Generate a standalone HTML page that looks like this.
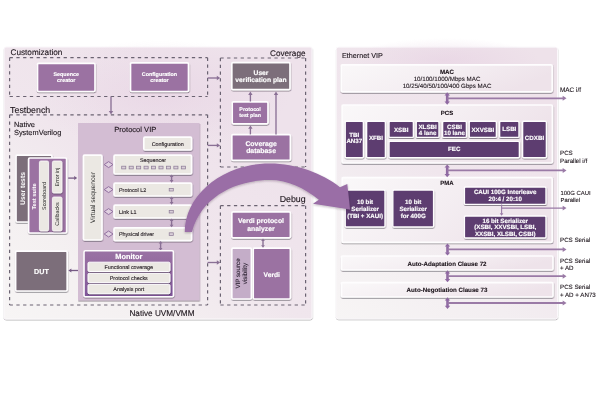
<!DOCTYPE html><html><head><meta charset="utf-8"><style>html,body{margin:0;padding:0;background:#fff;overflow:hidden}svg{display:block;will-change:transform;text-rendering:geometricPrecision;font-family:"Liberation Sans",sans-serif}</style></head><body>
<svg width="600" height="400" viewBox="0 0 600 400">
<defs><filter id="sh" x="-20%" y="-20%" width="140%" height="150%"><feDropShadow dx="0.3" dy="1" stdDeviation="0.7" flood-color="#2a1a30" flood-opacity="0.5"/></filter><filter id="psh" x="-5%" y="-5%" width="110%" height="110%"><feDropShadow dx="0.2" dy="0.9" stdDeviation="0.55" flood-color="#201020" flood-opacity="0.32"/></filter><linearGradient id="lp" x1="0" y1="1" x2="0.7" y2="0.2"><stop offset="0" stop-color="#f7f5f5"/><stop offset="0.3" stop-color="#f4f0f1"/><stop offset="0.6" stop-color="#f0e6ed"/><stop offset="1" stop-color="#eee2eb"/></linearGradient><linearGradient id="rp" x1="0" y1="1" x2="0.6" y2="0"><stop offset="0" stop-color="#f7f5f5"/><stop offset="0.35" stop-color="#f3eef1"/><stop offset="0.6" stop-color="#f0e6ed"/><stop offset="1" stop-color="#eee2ea"/></linearGradient><linearGradient id="wb" x1="0" y1="0" x2="1" y2="0.3"><stop offset="0" stop-color="#faf8f9"/><stop offset="0.55" stop-color="#f4eef2"/><stop offset="1" stop-color="#eee3ea"/></linearGradient><linearGradient id="mon" x1="0" y1="0" x2="0" y2="1"><stop offset="0" stop-color="#9a72a4"/><stop offset="0.3" stop-color="#946aa0"/><stop offset="1" stop-color="#80559a"/></linearGradient><filter id="ash" x="-10%" y="-10%" width="120%" height="130%"><feDropShadow dx="0" dy="1" stdDeviation="1" flood-color="#301830" flood-opacity="0.3"/></filter><radialGradient id="rg"><stop offset="0" stop-color="#e6d0e2" stop-opacity="0.55"/><stop offset="1" stop-color="#e6d0e2" stop-opacity="0"/></radialGradient></defs>
<rect x="4" y="47" width="308" height="272" rx="2" fill="url(#lp)" stroke="#fbf8fb" stroke-width="1" filter="url(#psh)"/>
<ellipse cx="160" cy="95" rx="130" ry="55" fill="url(#rg)"/>
<text x="10.5" y="55.2" font-size="8.2" fill="#1a1219" text-anchor="start"  stroke="#1a1219" stroke-width="0.1">Customization</text>
<text x="305.5" y="55.6" font-size="8.2" fill="#1a1219" text-anchor="end"  stroke="#1a1219" stroke-width="0.1">Coverage</text>
<text x="10.1" y="112.6" font-size="8.8" fill="#1a1219" text-anchor="start"  stroke="#1a1219" stroke-width="0.1">Testbench</text>
<text x="14" y="127.2" font-size="7.4" fill="#1a1219" text-anchor="start"  stroke="#1a1219" stroke-width="0.1">Native</text>
<text x="14" y="135.2" font-size="7.4" fill="#1a1219" text-anchor="start"  stroke="#1a1219" stroke-width="0.1">SystemVerilog</text>
<text x="305.6" y="202" font-size="8.8" fill="#1a1219" text-anchor="end"  stroke="#1a1219" stroke-width="0.1">Debug</text>
<text x="194.5" y="316" font-size="8.2" fill="#1a1219" text-anchor="end"  stroke="#1a1219" stroke-width="0.1">Native UVM/VMM</text>
<path d="M9.6,57.7 H207.6 M9.6,96.5 H207.6 M9.6,57.7 V96.5 M207.6,57.7 V96.5" fill="none" stroke="#6b6372" stroke-width="1.2" stroke-dasharray="3.3 3.45"/>
<path d="M220.4,58 H305.6 M220.4,167 H305.6 M220.4,58 V167 M305.6,58 V167" fill="none" stroke="#6b6372" stroke-width="1.2" stroke-dasharray="3.3 3.45"/>
<path d="M9.6,114.8 H207.6 M9.6,305 H207.6 M9.6,114.8 V305 M207.6,114.8 V305" fill="none" stroke="#6b6372" stroke-width="1.2" stroke-dasharray="3.3 3.45"/>
<path d="M220.4,205.7 H305.6 M220.4,305 H305.6 M220.4,205.7 V305 M305.6,205.7 V305" fill="none" stroke="#6b6372" stroke-width="1.2" stroke-dasharray="3.3 3.45"/>
<rect x="37.5" y="63.3" width="57.5" height="28.2" rx="1.2" fill="#9b72a2" stroke="#fefdfe" stroke-width="1.7" filter="url(#sh)" />
<text x="66.2" y="76.3" font-size="5.4" font-weight="bold" fill="#fff" text-anchor="middle"  stroke="#fff" stroke-width="0.15">Sequence</text>
<text x="66.2" y="82.3" font-size="5.4" font-weight="bold" fill="#fff" text-anchor="middle"  stroke="#fff" stroke-width="0.15">creator</text>
<rect x="130.5" y="62.8" width="58.0" height="28.7" rx="1.2" fill="#9b72a2" stroke="#fefdfe" stroke-width="1.7" filter="url(#sh)" />
<text x="159.5" y="76.3" font-size="5.4" font-weight="bold" fill="#fff" text-anchor="middle"  stroke="#fff" stroke-width="0.15">Configuration</text>
<text x="159.5" y="82.3" font-size="5.4" font-weight="bold" fill="#fff" text-anchor="middle"  stroke="#fff" stroke-width="0.15">creator</text>
<rect x="231.8" y="62.6" width="58.2" height="27.0" rx="1.2" fill="#7c6e7a" stroke="#fefdfe" stroke-width="1.7" filter="url(#sh)" />
<text x="261" y="74.8" font-size="6.7" font-weight="bold" fill="#fff" text-anchor="middle"  stroke="#fff" stroke-width="0.15">User</text>
<text x="261" y="81.6" font-size="6.7" font-weight="bold" fill="#fff" text-anchor="middle"  stroke="#fff" stroke-width="0.15">verification plan</text>
<rect x="232.2" y="101.8" width="35.8" height="22.0" rx="1.2" fill="#9b72a2" stroke="#fefdfe" stroke-width="1.7" filter="url(#sh)" />
<text x="250.1" y="111.1" font-size="5.3" font-weight="bold" fill="#fff" text-anchor="middle"  stroke="#fff" stroke-width="0.15">Protocol</text>
<text x="250.1" y="116.9" font-size="5.3" font-weight="bold" fill="#fff" text-anchor="middle"  stroke="#fff" stroke-width="0.15">test plan</text>
<rect x="231.8" y="134.6" width="58.6" height="25.8" rx="1.2" fill="#9b72a2" stroke="#fefdfe" stroke-width="1.7" filter="url(#sh)" />
<text x="261.1" y="146.0" font-size="6.9" font-weight="bold" fill="#fff" text-anchor="middle"  stroke="#fff" stroke-width="0.15">Coverage</text>
<text x="261.1" y="153.1" font-size="6.9" font-weight="bold" fill="#fff" text-anchor="middle"  stroke="#fff" stroke-width="0.15">database</text>
<line x1="250.4" y1="101.5" x2="250.4" y2="94.5" stroke="#8a7095" stroke-width="1.35"/>
<polygon points="250.4,91.6 248.20000000000002,95.0 252.6,95.0" fill="#8a7095"/>
<line x1="250.4" y1="134.4" x2="250.4" y2="128.3" stroke="#8a7095" stroke-width="1.35"/>
<polygon points="250.4,125.4 248.20000000000002,128.8 252.6,128.8" fill="#8a7095"/>
<line x1="276" y1="134.4" x2="276" y2="94.5" stroke="#8a7095" stroke-width="1.35"/>
<polygon points="276,91.6 273.8,95.0 278.2,95.0" fill="#8a7095"/>
<rect x="231.8" y="211.8" width="58.6" height="26.0" rx="1.2" fill="#9b72a2" stroke="#fefdfe" stroke-width="1.7" filter="url(#sh)" />
<text x="261" y="223.4" font-size="6.85" font-weight="bold" fill="#fff" text-anchor="middle"  stroke="#fff" stroke-width="0.15">Verdi protocol</text>
<text x="261" y="230.7" font-size="6.85" font-weight="bold" fill="#fff" text-anchor="middle"  stroke="#fff" stroke-width="0.15">analyzer</text>
<rect x="231.8" y="248.2" width="19.6" height="50.8" rx="1.2" fill="#c4adc8" stroke="#fefdfe" stroke-width="1.7" filter="url(#sh)" />
<rect x="253.2" y="248.2" width="37.2" height="50.8" rx="1.2" fill="#9b72a2" stroke="#fefdfe" stroke-width="1.7" filter="url(#sh)" />
<text x="271.8" y="277" font-size="6.7" font-weight="bold" fill="#fff" text-anchor="middle"  stroke="#fff" stroke-width="0.15">Verdi</text>
<text transform="translate(240.2,273.5) rotate(-90)" font-size="6.2" fill="#2a2030" stroke="#2a2030" stroke-width="0.1" text-anchor="middle"><tspan x="0" y="0">VIP source</tspan><tspan x="0" y="7">visibility</tspan></text>
<line x1="263" y1="240.6" x2="263" y2="245.70000000000002" stroke="#8a7095" stroke-width="1.4"/>
<polygon points="263,238.5 261.1,241.1 264.9,241.1" fill="#8a7095"/>
<polygon points="263,247.8 261.1,245.20000000000002 264.9,245.20000000000002" fill="#8a7095"/>
<line x1="207.6" y1="78" x2="217.29999999999998" y2="78" stroke="#8a7095" stroke-width="1.35"/>
<polygon points="220.2,78 216.79999999999998,75.8 216.79999999999998,80.2" fill="#8a7095"/>
<line x1="111" y1="96.5" x2="111" y2="111.6" stroke="#8a7095" stroke-width="1.35"/>
<polygon points="111,114.5 108.8,111.1 113.2,111.1" fill="#8a7095"/>
<line x1="207.6" y1="145.4" x2="217.29999999999998" y2="145.4" stroke="#8a7095" stroke-width="1.35"/>
<polygon points="220.2,145.4 216.79999999999998,143.20000000000002 216.79999999999998,147.6" fill="#8a7095"/>
<line x1="207.6" y1="262.5" x2="217.29999999999998" y2="262.5" stroke="#8a7095" stroke-width="1.35"/>
<polygon points="220.2,262.5 216.79999999999998,260.3 216.79999999999998,264.7" fill="#8a7095"/>
<rect x="16" y="155.2" width="36" height="66.8" rx="1.2" fill="#7c6e7a" stroke="#fefdfe" stroke-width="1.7" filter="url(#sh)" />
<rect x="28.6" y="158" width="38.0" height="75" rx="1.2" fill="#9b72a2" stroke="#fefdfe" stroke-width="1.7" filter="url(#sh)" />
<rect x="39.4" y="161" width="9.2" height="70" rx="1.5" fill="#ebe8e3" stroke="#fefdfe" stroke-width="0.8" filter="url(#sh)" />
<rect x="52.4" y="161" width="9.6" height="32" rx="1.5" fill="#ebe8e3" stroke="#fefdfe" stroke-width="0.8" filter="url(#sh)" />
<rect x="52.4" y="197" width="9.6" height="34" rx="1.5" fill="#ebe8e3" stroke="#fefdfe" stroke-width="0.8" filter="url(#sh)" />
<text transform="translate(25.3,188.5) rotate(-90)" font-size="6.8" font-weight="bold" fill="#fff" text-anchor="middle">User tests</text>
<text transform="translate(36.3,196.5) rotate(-90)" font-size="5.7" font-weight="bold" fill="#fff" text-anchor="middle">Test suite</text>
<text transform="translate(46.2,196) rotate(-90)" font-size="5.4" fill="#2a2a2a" text-anchor="middle">Scoreboard</text>
<text transform="translate(59.4,177) rotate(-90)" font-size="5.4" fill="#2a2a2a" text-anchor="middle">Error inj</text>
<text transform="translate(59.4,214) rotate(-90)" font-size="5.4" fill="#2a2a2a" text-anchor="middle">Callbacks</text>
<line x1="68.2" y1="178.1" x2="74.7" y2="178.1" stroke="#765a84" stroke-width="1.3"/>
<polygon points="77.2,178.1 74.2,176.1 74.2,180.1" fill="#765a84"/>
<rect x="15.6" y="251.2" width="51.6" height="39.8" rx="1.2" fill="#7c6e7a" stroke="#fefdfe" stroke-width="1.7" filter="url(#sh)" />
<text x="41.5" y="274" font-size="7.2" font-weight="bold" fill="#fff" text-anchor="middle"  stroke="#fff" stroke-width="0.15">DUT</text>
<line x1="78" y1="270.5" x2="70.9" y2="270.5" stroke="#765a84" stroke-width="1.3"/>
<polygon points="68.4,270.5 71.4,268.5 71.4,272.5" fill="#765a84"/>
<rect x="78" y="123" width="121.6" height="177.6" rx="0.5" fill="#d3bdd3" stroke="none" stroke-width="0" filter="url(#sh)" />
<text x="135.3" y="132" font-size="7.55" fill="#1a1219" text-anchor="middle"  stroke="#1a1219" stroke-width="0.1">Protocol VIP</text>
<rect x="143.8" y="137.2" width="47.8" height="12.8" rx="1.2" fill="#ebe8e3" stroke="#fefdfe" stroke-width="1.7" filter="url(#sh)" />
<text x="167.7" y="145.6" font-size="5.4" fill="#1a1219" text-anchor="middle"  stroke="#1a1219" stroke-width="0.1">Configuration</text>
<rect x="83.4" y="155.2" width="18.6" height="84.8" rx="1.2" fill="#ebe8e3" stroke="#fefdfe" stroke-width="1.7" filter="url(#sh)" />
<text transform="translate(94.8,197.5) rotate(-90)" font-size="6.6" fill="#2a2a2a" text-anchor="middle">Virtual sequencer</text>
<rect x="114" y="155.2" width="77.6" height="18.8" rx="1.2" fill="#ebe8e3" stroke="#fefdfe" stroke-width="1.7" filter="url(#sh)" />
<text x="153" y="162.4" font-size="5.4" fill="#1a1219" text-anchor="middle"  stroke="#1a1219" stroke-width="0.1">Sequencer</text>
<rect x="121.7" y="166.2" width="4.1" height="2.7" fill="#d9cfd9" stroke="#8f7d98" stroke-width="0.75"/>
<rect x="129.15" y="166.2" width="4.1" height="2.7" fill="#d9cfd9" stroke="#8f7d98" stroke-width="0.75"/>
<rect x="136.6" y="166.2" width="4.1" height="2.7" fill="#d9cfd9" stroke="#8f7d98" stroke-width="0.75"/>
<rect x="144.05" y="166.2" width="4.1" height="2.7" fill="#d9cfd9" stroke="#8f7d98" stroke-width="0.75"/>
<rect x="151.5" y="166.2" width="4.1" height="2.7" fill="#d9cfd9" stroke="#8f7d98" stroke-width="0.75"/>
<rect x="158.95" y="166.2" width="4.1" height="2.7" fill="#d9cfd9" stroke="#8f7d98" stroke-width="0.75"/>
<rect x="166.4" y="166.2" width="4.1" height="2.7" fill="#d9cfd9" stroke="#8f7d98" stroke-width="0.75"/>
<rect x="173.85" y="166.2" width="4.1" height="2.7" fill="#d9cfd9" stroke="#8f7d98" stroke-width="0.75"/>
<rect x="181.3" y="166.2" width="4.1" height="2.7" fill="#d9cfd9" stroke="#8f7d98" stroke-width="0.75"/>
<rect x="114" y="183.2" width="77.6" height="12.8" rx="1.2" fill="#ebe8e3" stroke="#fefdfe" stroke-width="1.7" filter="url(#sh)" />
<text x="119" y="191.7" font-size="5.4" fill="#1a1219" text-anchor="start"  stroke="#1a1219" stroke-width="0.1">Protocol L2</text>
<rect x="114" y="205.2" width="77.6" height="12.8" rx="1.2" fill="#ebe8e3" stroke="#fefdfe" stroke-width="1.7" filter="url(#sh)" />
<text x="119" y="213.7" font-size="5.4" fill="#1a1219" text-anchor="start"  stroke="#1a1219" stroke-width="0.1">Link L1</text>
<rect x="114" y="227.8" width="77.6" height="12.8" rx="1.2" fill="#ebe8e3" stroke="#fefdfe" stroke-width="1.7" filter="url(#sh)" />
<text x="119" y="236.2" font-size="5.4" fill="#1a1219" text-anchor="start"  stroke="#1a1219" stroke-width="0.1">Physical driver</text>
<polygon points="104.2,164.6 108.6,161.6 113,164.6 108.6,167.6" fill="#e0d0e0" stroke="#9170a0" stroke-width="1"/>
<rect x="169.2" y="188.4" width="4.1" height="2.6" fill="#d9cfd9" stroke="#8f7d98" stroke-width="0.75"/>
<polygon points="104.2,189.6 108.6,186.6 113,189.6 108.6,192.6" fill="#e0d0e0" stroke="#9170a0" stroke-width="1"/>
<rect x="169.2" y="210.4" width="4.1" height="2.6" fill="#d9cfd9" stroke="#8f7d98" stroke-width="0.75"/>
<polygon points="104.2,211.6 108.6,208.6 113,211.6 108.6,214.6" fill="#e0d0e0" stroke="#9170a0" stroke-width="1"/>
<rect x="169.2" y="232.8" width="4.1" height="2.6" fill="#d9cfd9" stroke="#8f7d98" stroke-width="0.75"/>
<polygon points="104.2,234 108.6,231 113,234 108.6,237" fill="#e0d0e0" stroke="#9170a0" stroke-width="1"/>
<line x1="171.6" y1="176.6" x2="171.6" y2="180.6" stroke="#8a7095" stroke-width="1.4"/>
<polygon points="171.6,174.5 169.7,177.1 173.5,177.1" fill="#8a7095"/>
<polygon points="171.6,182.7 169.7,180.1 173.5,180.1" fill="#8a7095"/>
<line x1="171.6" y1="198.6" x2="171.6" y2="202.6" stroke="#8a7095" stroke-width="1.4"/>
<polygon points="171.6,196.5 169.7,199.1 173.5,199.1" fill="#8a7095"/>
<polygon points="171.6,204.7 169.7,202.1 173.5,202.1" fill="#8a7095"/>
<line x1="171.6" y1="220.6" x2="171.6" y2="225.20000000000002" stroke="#8a7095" stroke-width="1.4"/>
<polygon points="171.6,218.5 169.7,221.1 173.5,221.1" fill="#8a7095"/>
<polygon points="171.6,227.3 169.7,224.70000000000002 173.5,224.70000000000002" fill="#8a7095"/>
<line x1="160.6" y1="243.1" x2="160.6" y2="248.5" stroke="#8a7095" stroke-width="1.4"/>
<polygon points="160.6,241 158.7,243.6 162.5,243.6" fill="#8a7095"/>
<polygon points="160.6,250.6 158.7,248.0 162.5,248.0" fill="#8a7095"/>
<rect x="84" y="250.8" width="89.4" height="46.0" rx="1.2" fill="url(#mon)" stroke="#fefdfe" stroke-width="1.6" filter="url(#sh)" />
<text x="128.8" y="259.4" font-size="7.4" font-weight="bold" fill="#fff" text-anchor="middle"  stroke="#fff" stroke-width="0.15">Monitor</text>
<rect x="88" y="262.2" width="82" height="9.3" rx="1.2" fill="#ebe8e3" stroke="#fefdfe" stroke-width="1.0" filter="url(#sh)" />
<text x="128.8" y="268.8" font-size="5.4" fill="#1a1219" text-anchor="middle"  stroke="#1a1219" stroke-width="0.1">Functional coverage</text>
<rect x="88" y="273.3" width="82" height="9.3" rx="1.2" fill="#ebe8e3" stroke="#fefdfe" stroke-width="1.0" filter="url(#sh)" />
<text x="128.8" y="279.90000000000003" font-size="5.4" fill="#1a1219" text-anchor="middle"  stroke="#1a1219" stroke-width="0.1">Protocol checks</text>
<rect x="88" y="284.4" width="82" height="9.3" rx="1.2" fill="#ebe8e3" stroke="#fefdfe" stroke-width="1.0" filter="url(#sh)" />
<text x="128.8" y="291.0" font-size="5.4" fill="#1a1219" text-anchor="middle"  stroke="#1a1219" stroke-width="0.1">Analysis port</text>
<rect x="336.3" y="47.2" width="221.2" height="271.6" rx="2" fill="url(#rp)" stroke="#fbf8fb" stroke-width="1" filter="url(#psh)"/>
<ellipse cx="445" cy="60" rx="95" ry="22" fill="url(#rg)"/>
<text x="342" y="58.2" font-size="7.2" fill="#1a1219" text-anchor="start"  stroke="#1a1219" stroke-width="0.1">Ethernet VIP</text>
<rect x="341.2" y="64.8" width="211.0" height="27.0" rx="1.2" fill="url(#wb)" stroke="#fefdfe" stroke-width="1.7" filter="url(#sh)" />
<text x="447" y="73.8" font-size="6.2" font-weight="bold" fill="#1a1219" text-anchor="middle"  stroke="#1a1219" stroke-width="0.1">MAC</text>
<text x="447" y="80.8" font-size="6.2" fill="#1a1219" text-anchor="middle"  stroke="#1a1219" stroke-width="0.1">10/100/1000/Mbps MAC</text>
<text x="447" y="87.5" font-size="6.2" fill="#1a1219" text-anchor="middle"  stroke="#1a1219" stroke-width="0.1">10/25/40/50/100/400 Gbps MAC</text>
<rect x="342" y="105" width="210.4" height="58" rx="1.2" fill="url(#wb)" stroke="#fefdfe" stroke-width="1.7" filter="url(#sh)" />
<text x="447" y="114.8" font-size="6" font-weight="bold" fill="#1a1219" text-anchor="middle"  stroke="#1a1219" stroke-width="0.1">PCS</text>
<rect x="345.20000000000005" y="121.2" width="18.2" height="36.6" rx="1.2" fill="#5d3e6f" stroke="#fefdfe" stroke-width="1.4" filter="url(#sh)" />
<text x="354.3" y="137.03" font-size="6.2" font-weight="bold" fill="#fff" text-anchor="middle"  stroke="#fff" stroke-width="0.15">TBI</text>
<text x="354.3" y="143.23" font-size="6.2" font-weight="bold" fill="#fff" text-anchor="middle"  stroke="#fff" stroke-width="0.15">AN37</text>
<rect x="366.6" y="121.2" width="18.8" height="36.6" rx="1.2" fill="#5d3e6f" stroke="#fefdfe" stroke-width="1.4" filter="url(#sh)" />
<text x="376.0" y="140.13" font-size="6.2" font-weight="bold" fill="#fff" text-anchor="middle"  stroke="#fff" stroke-width="0.15">XFBI</text>
<rect x="389.0" y="121.2" width="24.4" height="16.2" rx="1.2" fill="#5d3e6f" stroke="#fefdfe" stroke-width="1.4" filter="url(#sh)" />
<text x="401.2" y="131.73" font-size="6.2" font-weight="bold" fill="#fff" text-anchor="middle"  stroke="#fff" stroke-width="0.15">XSBI</text>
<rect x="416.20000000000005" y="121.2" width="22.8" height="16.2" rx="1.2" fill="#5d3e6f" stroke="#fefdfe" stroke-width="1.4" filter="url(#sh)" />
<text x="427.6" y="128.58" font-size="6.2" font-weight="bold" fill="#fff" text-anchor="middle"  stroke="#fff" stroke-width="0.15">XLSBI</text>
<text x="427.6" y="135.48" font-size="6.2" font-weight="bold" fill="#fff" text-anchor="middle"  stroke="#fff" stroke-width="0.15">4 lane</text>
<rect x="442.6" y="121.2" width="23.8" height="16.2" rx="1.2" fill="#5d3e6f" stroke="#fefdfe" stroke-width="1.4" filter="url(#sh)" />
<text x="454.5" y="128.58" font-size="6.2" font-weight="bold" fill="#fff" text-anchor="middle"  stroke="#fff" stroke-width="0.15">CSBI</text>
<text x="454.5" y="135.48" font-size="6.2" font-weight="bold" fill="#fff" text-anchor="middle"  stroke="#fff" stroke-width="0.15">10 lane</text>
<rect x="469.20000000000005" y="121.2" width="27.2" height="16.2" rx="1.2" fill="#5d3e6f" stroke="#fefdfe" stroke-width="1.4" filter="url(#sh)" />
<text x="482.8" y="131.53" font-size="6.2" font-weight="bold" fill="#fff" text-anchor="middle"  stroke="#fff" stroke-width="0.15">XXVSBI</text>
<rect x="499.6" y="121.2" width="19.4" height="16.2" rx="1.2" fill="#5d3e6f" stroke="#fefdfe" stroke-width="1.4" filter="url(#sh)" />
<text x="509.3" y="131.33" font-size="6.2" font-weight="bold" fill="#fff" text-anchor="middle"  stroke="#fff" stroke-width="0.15">LSBI</text>
<rect x="522.6" y="121.2" width="23.8" height="36.6" rx="1.2" fill="#5d3e6f" stroke="#fefdfe" stroke-width="1.4" filter="url(#sh)" />
<text x="534.5" y="139.93" font-size="6.2" font-weight="bold" fill="#fff" text-anchor="middle"  stroke="#fff" stroke-width="0.15">CDXBI</text>
<rect x="389.0" y="141.4" width="130.4" height="16.4" rx="1.2" fill="#5d3e6f" stroke="#fefdfe" stroke-width="1.4" filter="url(#sh)" />
<text x="454.2" y="151.23" font-size="6.2" font-weight="bold" fill="#fff" text-anchor="middle"  stroke="#fff" stroke-width="0.15">FEC</text>
<rect x="342" y="177.6" width="210.2" height="64.8" rx="1.2" fill="url(#wb)" stroke="#fefdfe" stroke-width="1.7" filter="url(#sh)" />
<text x="447" y="185.2" font-size="6" font-weight="bold" fill="#1a1219" text-anchor="middle"  stroke="#1a1219" stroke-width="0.1">PMA</text>
<rect x="345.2" y="190" width="39.8" height="37" rx="1.2" fill="#5d3e6f" stroke="#fefdfe" stroke-width="1.4" filter="url(#sh)" />
<text x="365.1" y="203.93" font-size="6.2" font-weight="bold" fill="#fff" text-anchor="middle"  stroke="#fff" stroke-width="0.15">10 bit</text>
<text x="365.1" y="210.73" font-size="6.2" font-weight="bold" fill="#fff" text-anchor="middle"  stroke="#fff" stroke-width="0.15">Serializer</text>
<text x="365.1" y="217.53" font-size="6.2" font-weight="bold" fill="#fff" text-anchor="middle"  stroke="#fff" stroke-width="0.15">(TBI + XAUI)</text>
<rect x="392.8" y="190" width="40.8" height="37" rx="1.2" fill="#5d3e6f" stroke="#fefdfe" stroke-width="1.4" filter="url(#sh)" />
<text x="413.20000000000005" y="203.93" font-size="6.2" font-weight="bold" fill="#fff" text-anchor="middle"  stroke="#fff" stroke-width="0.15">10 bit</text>
<text x="413.20000000000005" y="210.73" font-size="6.2" font-weight="bold" fill="#fff" text-anchor="middle"  stroke="#fff" stroke-width="0.15">Serializer</text>
<text x="413.20000000000005" y="217.53" font-size="6.2" font-weight="bold" fill="#fff" text-anchor="middle"  stroke="#fff" stroke-width="0.15">for 400G</text>
<rect x="464.4" y="187" width="81.6" height="17.4" rx="1.2" fill="#5d3e6f" stroke="#fefdfe" stroke-width="1.4" filter="url(#sh)" />
<text x="505.2" y="194.38" font-size="6.2" font-weight="bold" fill="#fff" text-anchor="middle"  stroke="#fff" stroke-width="0.15">CAUI 100G Interleave</text>
<text x="505.2" y="201.48" font-size="6.2" font-weight="bold" fill="#fff" text-anchor="middle"  stroke="#fff" stroke-width="0.15">20:4 / 20:10</text>
<rect x="464.4" y="216" width="81.6" height="22" rx="1.2" fill="#5d3e6f" stroke="#fefdfe" stroke-width="1.4" filter="url(#sh)" />
<text x="505.2" y="222.63" font-size="6.2" font-weight="bold" fill="#fff" text-anchor="middle"  stroke="#fff" stroke-width="0.15">16 bit Serializer</text>
<text x="505.2" y="229.23" font-size="6.2" font-weight="bold" fill="#fff" text-anchor="middle"  stroke="#fff" stroke-width="0.15">(XSBI, XXVSBI, LSBI,</text>
<text x="505.2" y="235.83" font-size="6.2" font-weight="bold" fill="#fff" text-anchor="middle"  stroke="#fff" stroke-width="0.15">XXSBI, XLSBI, CSBI)</text>
<rect x="341.4" y="256" width="211.6" height="14" rx="1.2" fill="url(#wb)" stroke="#fefdfe" stroke-width="1.7" filter="url(#sh)" />
<text x="447" y="266.3" font-size="6.2" font-weight="bold" fill="#1a1219" text-anchor="middle"  stroke="#1a1219" stroke-width="0.1">Auto-Adaptation Clause 72</text>
<rect x="341.4" y="282.6" width="211.6" height="14.4" rx="1.2" fill="url(#wb)" stroke="#fefdfe" stroke-width="1.7" filter="url(#sh)" />
<text x="447" y="292.3" font-size="6.2" font-weight="bold" fill="#1a1219" text-anchor="middle"  stroke="#1a1219" stroke-width="0.1">Auto-Negotiation Clause 73</text>
<line x1="447.2" y1="95.0" x2="447.2" y2="102.1" stroke="#8f69a2" stroke-width="2.6"/>
<polygon points="447.2,92.3 444.5,95.5 449.9,95.5" fill="#8f69a2"/>
<polygon points="447.2,104.8 444.5,101.6 449.9,101.6" fill="#8f69a2"/>
<line x1="447.2" y1="98.3" x2="563.2" y2="98.3" stroke="#9a7aa6" stroke-width="1.8"/>
<polygon points="566.5,98.3 562.7,95.8 562.7,100.8" fill="#9a7aa6"/>
<line x1="447.2" y1="167.1" x2="447.2" y2="174.60000000000002" stroke="#8f69a2" stroke-width="2.6"/>
<polygon points="447.2,164.4 444.5,167.6 449.9,167.6" fill="#8f69a2"/>
<polygon points="447.2,177.3 444.5,174.10000000000002 449.9,174.10000000000002" fill="#8f69a2"/>
<line x1="447.2" y1="170.4" x2="563.2" y2="170.4" stroke="#9a7aa6" stroke-width="1.8"/>
<polygon points="566.5,170.4 562.7,167.9 562.7,172.9" fill="#9a7aa6"/>
<line x1="501.6" y1="204.6" x2="501.6" y2="213.70000000000002" stroke="#9a7aa6" stroke-width="1.1"/>
<polygon points="501.6,215.8 499.8,213.20000000000002 503.40000000000003,213.20000000000002" fill="#9a7aa6"/>
<line x1="501.6" y1="208.1" x2="563.2" y2="208.1" stroke="#9a7aa6" stroke-width="1.3"/>
<polygon points="566.5,208.1 562.7,205.7 562.7,210.5" fill="#9a7aa6"/>
<line x1="447.5" y1="246.1" x2="447.5" y2="252.9" stroke="#8f69a2" stroke-width="2.6"/>
<polygon points="447.5,243.4 444.8,246.6 450.2,246.6" fill="#8f69a2"/>
<polygon points="447.5,255.6 444.8,252.4 450.2,252.4" fill="#8f69a2"/>
<line x1="447.5" y1="249.4" x2="563.2" y2="249.4" stroke="#9a7aa6" stroke-width="1.8"/>
<polygon points="566.5,249.4 562.7,246.9 562.7,251.9" fill="#9a7aa6"/>
<line x1="447.5" y1="272.9" x2="447.5" y2="279.5" stroke="#8f69a2" stroke-width="2.6"/>
<polygon points="447.5,270.2 444.8,273.4 450.2,273.4" fill="#8f69a2"/>
<polygon points="447.5,282.2 444.8,279.0 450.2,279.0" fill="#8f69a2"/>
<line x1="447.5" y1="276.2" x2="563.2" y2="276.2" stroke="#9a7aa6" stroke-width="1.8"/>
<polygon points="566.5,276.2 562.7,273.7 562.7,278.7" fill="#9a7aa6"/>
<line x1="447.5" y1="299.9" x2="447.5" y2="306.3" stroke="#8f69a2" stroke-width="2.6"/>
<polygon points="447.5,297.2 444.8,300.4 450.2,300.4" fill="#8f69a2"/>
<polygon points="447.5,309 444.8,305.8 450.2,305.8" fill="#8f69a2"/>
<line x1="447.5" y1="303" x2="563.2" y2="303" stroke="#9a7aa6" stroke-width="1.8"/>
<polygon points="566.5,303 562.7,300.5 562.7,305.5" fill="#9a7aa6"/>
<text x="560" y="92.3" font-size="6.4" fill="#1a1219" text-anchor="start"  stroke="#1a1219" stroke-width="0.1">MAC i/f</text>
<text x="560" y="155.4" font-size="6.2" fill="#1a1219" text-anchor="start"  stroke="#1a1219" stroke-width="0.1">PCS</text>
<text x="560" y="162.9" font-size="6.2" fill="#1a1219" text-anchor="start"  stroke="#1a1219" stroke-width="0.1">Parallel i/f</text>
<text x="560.5" y="195.3" font-size="5.9" fill="#1a1219" text-anchor="start"  stroke="#1a1219" stroke-width="0.1">100G CAUI</text>
<text x="560.5" y="202.1" font-size="5.9" fill="#1a1219" text-anchor="start"  stroke="#1a1219" stroke-width="0.1">Parallel</text>
<text x="560" y="242.1" font-size="6.2" fill="#1a1219" text-anchor="start"  stroke="#1a1219" stroke-width="0.1">PCS Serial</text>
<text x="560" y="262.9" font-size="6.2" fill="#1a1219" text-anchor="start"  stroke="#1a1219" stroke-width="0.1">PCS Serial</text>
<text x="560" y="270.2" font-size="6.2" fill="#1a1219" text-anchor="start"  stroke="#1a1219" stroke-width="0.1">+ AD</text>
<text x="560" y="289.2" font-size="6.2" fill="#1a1219" text-anchor="start"  stroke="#1a1219" stroke-width="0.1">PCS Serial</text>
<text x="560" y="296.6" font-size="6.2" fill="#1a1219" text-anchor="start"  stroke="#1a1219" stroke-width="0.1">+ AD + AN73</text>
<path d="M184.8,232 C185,195 222,163.5 270,163.5 C296,163.5 322,173 340,187.2 L347.3,184 L350,209.5 L313,203.8 L318.8,199.8 C304,188 288,180 270,180 C240,180 202,194 192,232 Z" fill="#9a6ea6" filter="url(#ash)"/>
</svg></body></html>
